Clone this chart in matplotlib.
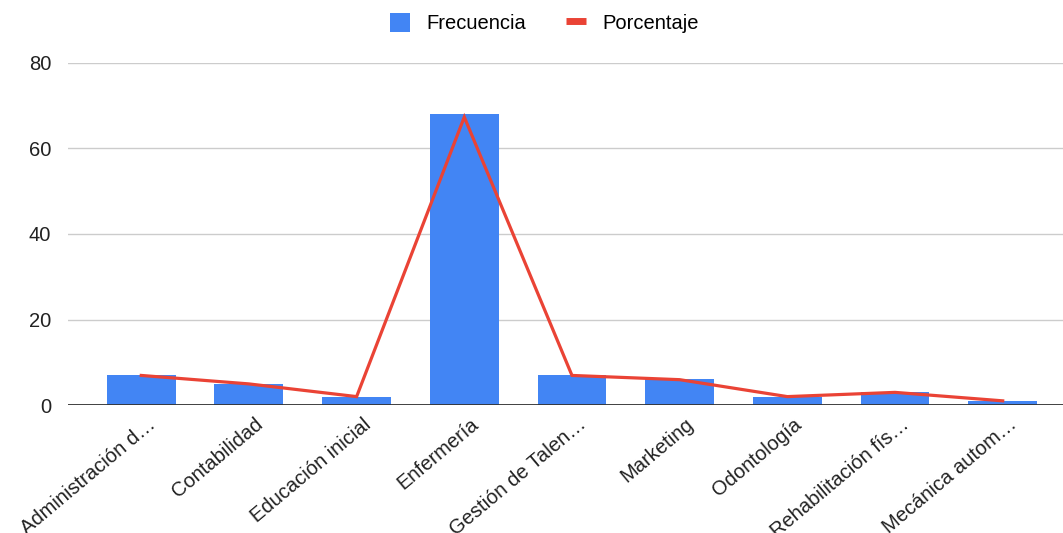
import matplotlib.pyplot as plt
import matplotlib.transforms as mtransforms
from matplotlib.patches import Patch
from matplotlib.lines import Line2D
import numpy as np

plt.rcParams['font.family'] = ['Liberation Sans', 'DejaVu Sans']

carreras = ["Administración d…", "Contabilidad", "Educación inicial", "Enfermería",
            "Gestión de Talen…", "Marketing", "Odontología", "Rehabilitación fís…",
            "Mecánica autom…"]
frecuencia = [7, 5, 2, 68, 7, 6, 2, 3, 1]
porcentaje = [6.93, 4.95, 1.98, 67.33, 6.93, 5.94, 1.98, 2.97, 0.99]

azul = "#4285F4"
rojo = "#EA4335"

fig = plt.figure(figsize=(10.63, 5.33), dpi=100)
ax = fig.add_axes([0.064, 0.240, 0.936, 0.642])

x = np.arange(len(carreras))
ax.bar(x, frecuencia, width=0.64, color=azul, zorder=2)
ax.plot(x, porcentaje, color=rojo, linewidth=2.3, zorder=3, solid_joinstyle='miter')

ax.set_xlim(-0.68, 8.56)
ax.set_ylim(0, 80)
ax.set_yticks([0, 20, 40, 60, 80])
ax.grid(axis='y', color='#cccccc', linewidth=1, zorder=0)
ax.axhline(0, color='#333333', linewidth=1.3, zorder=4)

for s in ax.spines.values():
    s.set_visible(False)
ax.tick_params(axis='y', length=0, pad=12, labelsize=14.5, labelcolor='#222222')
ax.tick_params(axis='x', length=0, pad=12, labelsize=14.5, labelcolor='#222222')

ax.set_xticks(x)
ax.set_xticklabels(carreras, rotation=40, ha='right', va='center', rotation_mode='anchor')
shift = mtransforms.ScaledTranslation(12 / 100, 0, fig.dpi_scale_trans)
for lbl in ax.get_xticklabels():
    lbl.set_transform(lbl.get_transform() + shift)

handles = [Patch(facecolor=azul, edgecolor='none', label='Frecuencia'),
           Line2D([0], [0], color=rojo, linewidth=5, solid_capstyle='butt', label='Porcentaje')]
fig.legend(handles=handles, loc='upper center', bbox_to_anchor=(0.512, 1.01), ncol=2,
           frameon=False, fontsize=14.5, handlelength=1.0, handleheight=1.1,
           columnspacing=2.0, handletextpad=0.8)

fig.savefig("out.png", dpi=100)
